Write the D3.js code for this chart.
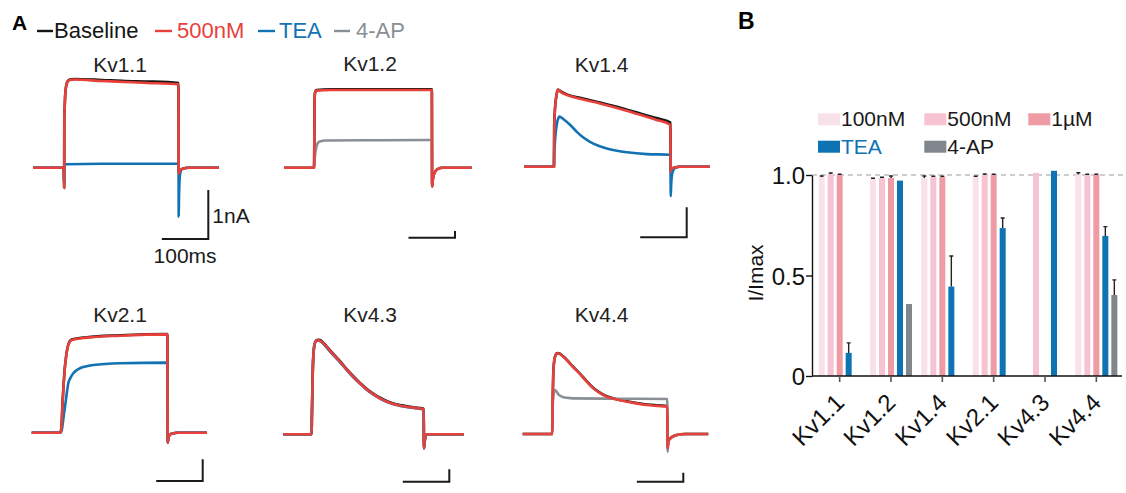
<!DOCTYPE html>
<html>
<head>
<meta charset="utf-8">
<script src="https://cdn.jsdelivr.net/npm/d3@7"></script>
<style>
body { margin: 0; background: #fff; }
svg { display: block; font-family: "Liberation Sans", Arial, sans-serif; }
</style>
</head>
<body>
<svg id="fig" width="1126" height="493"></svg>
<script>
// ---- panel A: current traces, [time ms, current nA] ----
var kv11Base = [[0,0],[66,0],[67,-0.4],[67.3,1.0],[68,1.2],[69,1.44],[70,1.57],[72,1.7],[75,1.77],[79,1.8],[89,1.81],[148,1.79],[197,1.77],[246,1.76],[313,1.73],[313.4,-0.12],[316,-0.06],[322,-0.02],[335,0],[400,0]];
var kv11Red  = [[0,0],[66,0],[67,-0.42],[67.3,1.03],[68,1.2],[69,1.45],[70,1.58],[72,1.7],[75,1.76],[79,1.79],[89,1.8],[148,1.77],[197,1.75],[246,1.73],[313,1.7],[313.4,-0.12],[316,-0.06],[322,-0.02],[335,0],[400,0]];
var kv11TEA  = [[0,0],[66,0],[67,-0.35],[67.5,0.05],[70,0.07],[150,0.08],[313,0.08],[313.4,-1.0],[314,-0.6],[316,-0.15],[320,-0.03],[330,0],[400,0]];

var kv12Base = [[0,0],[64.5,0],[65,1.5],[65.5,8],[66,10.6],[67,11.3],[70,11.6],[100,11.7],[200,11.7],[318,11.7],[318.5,-2.8],[320,-1.8],[322,-1.1],[325,-0.6],[328,-0.34],[333,-0.12],[340,0],[404,0]];
var kv12Red  = [[0,0],[64.5,0],[65,1.5],[65.5,8],[66,10.5],[67,11.2],[70,11.5],[100,11.6],[200,11.6],[318,11.6],[318.5,-2.8],[320,-1.8],[322,-1.1],[325,-0.6],[328,-0.34],[333,-0.12],[340,0],[404,0]];
var kv12AP   = [[0,0],[64.5,0],[65,0.5],[67,2.0],[70,3.2],[73,3.7],[77,3.9],[90,4.05],[200,4.1],[318,4.13],[318.5,-2.6],[320,-1.7],[322,-1.0],[325,-0.55],[328,-0.3],[333,-0.1],[340,0],[404,0]];

var kv14Base = [[0,0],[64.5,0],[65,1.4],[67,2.0],[70,2.4],[73,2.57],[80,2.5],[92,2.41],[125,2.28],[163,2.14],[200,2.0],[235,1.84],[285,1.62],[315,1.47],[315.5,-0.17],[317,-0.07],[325,-0.02],[335,0],[400,0]];
var kv14Red  = [[0,0],[64.5,0],[65,1.4],[67,2.0],[70,2.4],[73,2.56],[80,2.48],[92,2.39],[125,2.25],[163,2.11],[200,1.96],[235,1.8],[285,1.56],[315,1.39],[315.5,-0.17],[317,-0.07],[325,-0.02],[335,0],[400,0]];
var kv14TEA  = [[0,0],[64.5,0],[65,0.45],[66,0.7],[68,1.1],[71,1.45],[74,1.62],[76,1.67],[85,1.58],[100,1.38],[113,1.17],[127,0.98],[142,0.83],[160,0.7],[178,0.61],[200,0.53],[221,0.48],[264,0.42],[315,0.4],[315.5,-0.98],[316.5,-0.6],[318,-0.3],[321,-0.12],[326,-0.03],[335,0],[400,0]];

var kv21Base = [[0,0],[61,0],[62.5,0.05],[64.5,0.45],[66,1.25],[68,2.0],[71,2.95],[74,3.52],[78.7,4.06],[86,4.29],[118,4.4],[190,4.49],[292,4.55],[292.5,-0.46],[294,-0.25],[297,-0.1],[303,-0.04],[313,0],[377,0]];
var kv21Red  = [[0,0],[61,0],[62.5,0.05],[64.5,0.43],[66,1.2],[68,1.97],[71,2.9],[74,3.5],[78.7,4.04],[86,4.27],[118,4.38],[190,4.47],[292,4.53],[292.5,-0.46],[294,-0.25],[297,-0.1],[303,-0.04],[313,0],[377,0]];
var kv21TEA  = [[0,0],[62,0],[64.5,0.1],[67,0.45],[69,0.8],[71.6,1.2],[75,1.75],[78.7,2.28],[84,2.55],[89.5,2.74],[96,2.87],[104,2.97],[118,3.06],[132.5,3.12],[190,3.2],[292,3.23],[292.5,-0.42],[294,-0.22],[297,-0.08],[303,-0.03],[313,0],[377,0]];

var kv43Base = [[0,0],[61,0],[61.5,1.5],[63,4.5],[64.5,6.3],[67,7.2],[70,7.55],[75,7.62],[79,7.6],[85,7.42],[93,7.1],[107,6.5],[122,5.9],[136,5.28],[150,4.7],[165,4.15],[179,3.68],[194,3.27],[208,2.95],[222,2.69],[237,2.49],[255,2.34],[272,2.22],[302,2.06],[302.5,-1.13],[304,-0.6],[306,-0.15],[309,0],[388,0]];
var kv43TEA  = [[0,0],[61,0],[61.5,1.5],[63,4.5],[64.5,6.3],[67,7.25],[70,7.5],[75,7.56],[79,7.52],[85,7.34],[93,7.0],[107,6.4],[122,5.8],[136,5.2],[150,4.62],[165,4.08],[179,3.6],[194,3.2],[208,2.88],[222,2.62],[237,2.42],[255,2.27],[272,2.16],[302,2.0],[302.5,-1.13],[304,-0.6],[306,-0.15],[309,0],[388,0]];
var kv43Red  = [[0,0],[61,0],[61.5,1.5],[63,4.5],[64.5,6.3],[67,7.2],[70,7.5],[75,7.58],[79,7.55],[85,7.38],[93,7.06],[107,6.45],[122,5.85],[136,5.23],[150,4.65],[165,4.1],[179,3.63],[194,3.22],[208,2.9],[222,2.64],[237,2.44],[255,2.29],[272,2.18],[302,2.02],[302.5,-1.13],[304,-0.6],[306,-0.15],[309,0],[388,0]];

var kv44Base = [[0,0],[63.5,0],[64,2],[65,5],[66,7],[68,8.2],[71,8.8],[74.4,8.99],[80,8.92],[87,8.63],[94.6,8.26],[108,7.5],[123,6.72],[137,5.9],[152,5.12],[166,4.6],[180.6,4.2],[200,3.9],[223.7,3.64],[245,3.45],[266.7,3.28],[290,3.18],[311,3.1],[311.5,-1.59],[312.5,-1.1],[314,-0.7],[317,-0.5],[320,-0.37],[325,-0.22],[332,-0.1],[340,-0.03],[350,0],[399,0]];
var kv44Red  = [[0,0],[63.5,0],[64,2],[65,5],[66,7],[68,8.2],[71,8.8],[74.4,8.97],[80,8.9],[87,8.6],[94.6,8.22],[108,7.45],[123,6.67],[137,5.85],[152,5.07],[166,4.55],[180.6,4.15],[200,3.85],[223.7,3.59],[245,3.4],[266.7,3.22],[290,3.12],[311,3.04],[311.5,-1.59],[312.5,-1.1],[314,-0.7],[317,-0.5],[320,-0.37],[325,-0.22],[332,-0.1],[340,-0.03],[350,0],[399,0]];
var kv44AP   = [[0,0],[63.5,0],[64,2.5],[66,4.2],[69.5,4.89],[73,4.7],[78,4.35],[84,4.15],[95,4.02],[109,3.96],[200,3.92],[311,3.89],[311.5,-1.96],[312.5,-1.3],[314,-0.8],[317,-0.55],[320,-0.4],[325,-0.24],[332,-0.11],[340,-0.04],[350,0],[399,0]];

// ---- panel B: normalised current ----
var channels  = ["Kv1.1", "Kv1.2", "Kv1.4", "Kv2.1", "Kv4.3", "Kv4.4"];
var series    = ["100nM", "500nM", "1\u00b5M", "TEA", "4-AP"];
var val100nM  = [0.99, 0.98, 0.985, 0.99, null, 1.003];
var err100nM  = [0.005, 0.004, 0.01, 0.004, null, 0.008];
var val500nM  = [1.005, 0.985, 0.99, 1.0, 1.011, 1.0];
var err500nM  = [0.005, 0.004, 0.004, 0.005, 0, 0.004];
var val1uM    = [1.0, 0.985, 0.99, 1.0, null, 1.0];
var err1uM    = [0.004, 0.01, 0.004, 0.004, null, 0.004];
var valTEA    = [0.115, 0.972, 0.445, 0.736, 1.021, 0.697];
var errTEA    = [0.05, 0, 0.152, 0.05, 0, 0.046];
var val4AP    = [null, 0.358, null, null, null, 0.403];
var err4AP    = [null, 0, null, null, null, 0.075];
var yTicks    = [0, 0.5, 1.0];

var svg = d3.select("#fig");

// ================= panel A =================
var col = {base: "#151515", red: "#e8403a", tea: "#1272b4", ap: "#8a8f96"};
var msPx = 0.465; // px per ms, shared by all panels

var panels = [
  {name: "Kv1.1", x0: 33,    yBase: 167.7, nA: 49,   bar: [208.3, 239],   tx: 120,   ty: 72,  traces: [[kv11Base, col.base], [kv11TEA, col.tea], [kv11Red, col.red]]},
  {name: "Kv1.2", x0: 284,   yBase: 167.7, nA: 6.7,  bar: [455, 237.7],   tx: 370,   ty: 71,  traces: [[kv12Base, col.base], [kv12AP, col.ap], [kv12Red, col.red]]},
  {name: "Kv1.4", x0: 524,   yBase: 166.7, nA: 30,   bar: [686.7, 237.3], tx: 601.7, ty: 72,  traces: [[kv14Base, col.base], [kv14TEA, col.tea], [kv14Red, col.red]]},
  {name: "Kv2.1", x0: 31.7,  yBase: 432.7, nA: 21.7, bar: [202.7, 481],   tx: 120,   ty: 322, traces: [[kv21Base, col.base], [kv21TEA, col.tea], [kv21Red, col.red]]},
  {name: "Kv4.3", x0: 283.3, yBase: 434.3, nA: 12.4, bar: [449.3, 481.7], tx: 370,   ty: 322, traces: [[kv43Base, col.base], [kv43TEA, col.tea], [kv43Red, col.red]]},
  {name: "Kv4.4", x0: 522.7, yBase: 434,   nA: 9,    bar: [683.3, 481.7], tx: 601.7, ty: 322, traces: [[kv44Base, col.base], [kv44AP, col.ap], [kv44Red, col.red]]}
];

panels.forEach(function(p, i) {
  var x = d3.scaleLinear().domain([0, 100]).range([p.x0, p.x0 + 100 * msPx]);
  var y = d3.scaleLinear().domain([0, 1]).range([p.yBase, p.yBase - p.nA]);
  var line = d3.line()
    .x(function(d) { return x(d[0]); })
    .y(function(d) { return y(d[1]); })
    .curve(d3.curveMonotoneX);

  var g = svg.append("g");
  g.append("text")
    .attr("x", p.tx).attr("y", p.ty)
    .attr("text-anchor", "middle")
    .style("font-size", "21px").style("fill", "#222")
    .text(p.name);

  p.traces.forEach(function(t) {
    g.append("path")
      .attr("d", line(t[0]))
      .attr("fill", "none")
      .attr("stroke", t[1])
      .attr("stroke-width", 2.6)
      .attr("stroke-linejoin", "round");
  });

  // scale bar: 100 ms x 1 nA
  var bx = p.bar[0], by = p.bar[1];
  var lenT = x(100) - x(0), lenI = y(0) - y(1);
  g.append("path")
    .attr("d", "M" + (bx - lenT) + "," + by + "H" + bx + "V" + (by - lenI))
    .attr("fill", "none").attr("stroke", "#1a1a1a").attr("stroke-width", 2);

  if (i === 0) {
    g.append("text").attr("x", bx + 4).attr("y", by - 16)
      .style("font-size", "21px").style("fill", "#1a1a1a").text("1nA");
    g.append("text").attr("x", bx - lenT / 2).attr("y", by + 24)
      .attr("text-anchor", "middle")
      .style("font-size", "21px").style("fill", "#1a1a1a").text("100ms");
  }
});

// legend A
svg.append("text").attr("x", 12).attr("y", 29.5)
  .style("font-size", "21px").style("font-weight", "bold").text("A");

var legA = [
  {label: "Baseline", c: col.base, x1: 37,  x2: 53,  tx: 54},
  {label: "500nM",    c: col.red,  x1: 155, x2: 172, tx: 177},
  {label: "TEA",      c: col.tea,  x1: 258, x2: 275, tx: 279},
  {label: "4-AP",     c: col.ap,   x1: 334, x2: 350, tx: 356}
];
legA.forEach(function(d) {
  svg.append("line").attr("x1", d.x1).attr("x2", d.x2).attr("y1", 31).attr("y2", 31)
    .attr("stroke", d.c).attr("stroke-width", 2.4);
  svg.append("text").attr("x", d.tx).attr("y", 37.5)
    .style("font-size", "22px").style("fill", d.c).text(d.label);
});

// ================= panel B =================
svg.append("text").attr("x", 738).attr("y", 29)
  .style("font-size", "23px").style("font-weight", "bold").text("B");

var barColors = ["#f9e1e9", "#f7c2d1", "#ef9ba6", "#0d73b3", "#81868d"];
var vals = [val100nM, val500nM, val1uM, valTEA, val4AP];
var errs = [err100nM, err500nM, err1uM, errTEA, err4AP];

var xB = d3.scaleBand().domain(channels).range([814, 1122]);
var xSub = d3.scalePoint().domain(series).range([-18, 18]);
var yB = d3.scaleLinear().domain([0, 1]).range([376, 175]);
var barW = 6;

var gB = svg.append("g");

// dashed reference at 1.0
gB.append("line")
  .attr("x1", 812).attr("x2", 1126)
  .attr("y1", yB(1)).attr("y2", yB(1))
  .attr("stroke", "#bdbdbd").attr("stroke-width", 1.4)
  .attr("stroke-dasharray", "5,4");

var barData = [];
channels.forEach(function(ch, ci) {
  series.forEach(function(s, si) {
    var v = vals[si][ci];
    if (v != null) barData.push({ch: ch, s: s, si: si, v: v, e: errs[si][ci]});
  });
});

gB.selectAll("rect.bar").data(barData).enter().append("rect")
  .attr("class", "bar")
  .attr("x", function(d) { return xB(d.ch) + xB.bandwidth() / 2 + xSub(d.s) - barW / 2; })
  .attr("y", function(d) { return yB(d.v); })
  .attr("width", barW)
  .attr("height", function(d) { return yB(0) - yB(d.v); })
  .attr("fill", function(d) { return barColors[d.si]; });

gB.selectAll("path.err").data(barData.filter(function(d) { return d.e > 0; })).enter().append("path")
  .attr("class", "err")
  .attr("d", function(d) {
    var cx = xB(d.ch) + xB.bandwidth() / 2 + xSub(d.s);
    var y0 = yB(d.v), y1 = yB(d.v + d.e);
    return "M" + cx + "," + y0 + "V" + y1 + "M" + (cx - 2) + "," + y1 + "H" + (cx + 2);
  })
  .attr("fill", "none").attr("stroke", "#222").attr("stroke-width", 1.4);

// axes
var yAxis = d3.axisLeft(yB).tickValues(yTicks).tickSize(6).tickSizeOuter(0)
  .tickFormat(function(d) { return d === 0 ? "0" : d3.format(".1f")(d); });
var gy = gB.append("g").attr("transform", "translate(812,0)").call(yAxis);
gy.select(".domain").attr("stroke", "#111").attr("stroke-width", 1.4);
gy.selectAll(".tick line").attr("stroke", "#111").attr("stroke-width", 1.4);
gy.selectAll(".tick text")
  .attr("x", -7).attr("dy", "0.36em")
  .style("font-family", "'Liberation Sans', Arial, sans-serif")
  .style("font-size", "24px").style("fill", "#111");

var xAxis = d3.axisBottom(xB).tickSize(6).tickSizeOuter(0);
var gx = gB.append("g").attr("transform", "translate(0,376)").call(xAxis);
gx.select(".domain").attr("d", "M812,0H1122").attr("stroke", "#111").attr("stroke-width", 1.4);
gx.selectAll(".tick line").attr("stroke", "#555").attr("stroke-width", 1.6);
gx.selectAll(".tick text")
  .attr("y", 0).attr("dy", 0)
  .attr("transform", "translate(6,28) rotate(-45)")
  .attr("text-anchor", "end")
  .style("font-family", "'Liberation Sans', Arial, sans-serif")
  .style("font-size", "24px").style("fill", "#111");

gB.append("text")
  .attr("transform", "translate(763,273) rotate(-90)")
  .attr("text-anchor", "middle")
  .style("font-size", "21px").style("fill", "#111")
  .text("I/Imax");

// legend B
var legCols = [818, 924.3, 1028.3];
var legRows = [113.3, 140.7];
series.forEach(function(s, i) {
  var lx = legCols[i % 3], ly = legRows[Math.floor(i / 3)];
  gB.append("rect").attr("x", lx).attr("y", ly).attr("width", 22).attr("height", 12)
    .attr("fill", barColors[i]);
  gB.append("text").attr("x", lx + 23).attr("y", ly + 13)
    .style("font-size", "21px")
    .style("fill", s === "TEA" ? "#0d73b3" : "#1a1a1a")
    .text(s);
});
</script>
</body>
</html>
